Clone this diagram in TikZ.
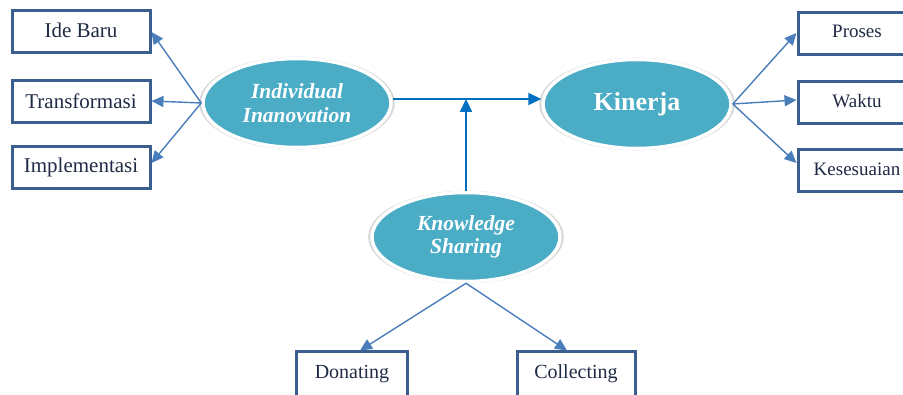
\documentclass[tikz,border=0pt]{standalone}
\usepackage{fontspec}
\setmainfont{Liberation Serif}
\usetikzlibrary{shapes.geometric,arrows.meta,shadows,calc}
\definecolor{ellfill}{HTML}{4BACC6}
\definecolor{boxline}{HTML}{3A5F8F}
\definecolor{arr}{HTML}{4A7EBB}
\definecolor{mainarr}{HTML}{0070C0}
\definecolor{boxtext}{HTML}{1F2A44}
\begin{document}
\begin{tikzpicture}[x=1pt,y=-1pt,
 ell/.style={ellipse, fill=ellfill, draw=white, line width=3.5pt, minimum width=188pt, minimum height=89pt, inner sep=0pt, text=white, font=\fontsize{21.5}{23.5}\selectfont\bfseries\itshape, align=center, general shadow={fill=black!16, shadow scale=1.04}},
 box/.style={draw=boxline, line width=3pt, fill=white, minimum height=42pt, text=boxtext, font=\fontsize{21}{23}\selectfont},
 fan/.style={draw=arr, line width=1.4pt, -{Triangle[length=12pt,width=11pt]}},
 main/.style={draw=mainarr, line width=2.2pt, -{Triangle[length=13pt,width=12pt]}}]
\path[use as bounding box, fill=white] (0,0) rectangle (903,395);

\node[ell] (ii) at (297,103) {Individual\\Inanovation};
\node[ell, font=\fontsize{26}{28}\selectfont\bfseries] (ki) at (637,104) {Kinerja};
\node[ell] (ks) at (466,237) {Knowledge\\Sharing};

\node[box, minimum width=138pt] (ib) at (81,32) {\raisebox{4pt}{Ide Baru}};
\node[box, minimum width=138pt] (tr) at (81,102) {\raisebox{1pt}{Transformasi}};
\node[box, minimum width=138pt] (im) at (81,168) {\raisebox{5pt}{Implementasi}};

\node[box, minimum width=118pt, font=\fontsize{19}{21}\selectfont] (pr) at (857,34) {\raisebox{5pt}{Proses}};
\node[box, minimum width=118pt, font=\fontsize{19}{21}\selectfont] (wa) at (857,103) {\raisebox{5pt}{Waktu}};
\node[box, minimum width=118pt, font=\fontsize{19}{21}\selectfont] (ke) at (857,171) {\raisebox{4pt}{Kesesuaian}};

\node[box, minimum width=111pt, minimum height=46pt, font=\fontsize{20}{22}\selectfont] (do) at (352,375) {\raisebox{6pt}{Donating}};
\node[box, minimum width=118pt, minimum height=46pt, font=\fontsize{20}{22}\selectfont] (co) at (576,375) {\raisebox{6pt}{Collecting}};

\coordinate (lf) at (ii.west);
\draw[fan] (lf) -- (ib.east);
\draw[fan] (lf) -- ($(tr.east)+(0,-1)$);
\draw[fan] (lf) -- ($(im.east)+(0,-5)$);

\coordinate (rf) at (ki.east);
\draw[fan] (rf) -- ($(pr.west)+(0,-1)$);
\draw[fan] (rf) -- ($(wa.west)+(0,-3)$);
\draw[fan] (rf) -- ($(ke.west)+(0,-8)$);

\coordinate (bf) at (ks.south);
\draw[fan] (bf) -- ($(do.north)+(8,0)$);
\draw[fan] (bf) -- ($(co.north)+(-9,0)$);

\coordinate (j) at (466,99);
\draw[main] (ii.east |- j) -- (ki.west |- j);
\draw[main] (ks.north) -- (j);
\end{tikzpicture}
\end{document}
